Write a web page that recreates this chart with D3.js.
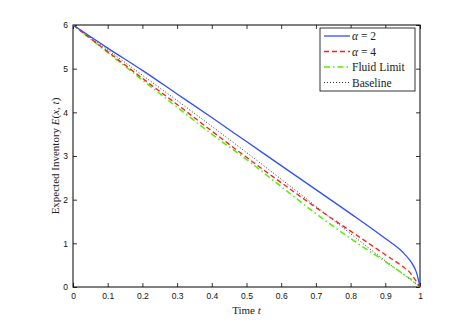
<!DOCTYPE html>
<html>
<head>
<meta charset="utf-8">
<script src="https://cdn.jsdelivr.net/npm/d3@7"></script>
<style>
  body { margin: 0; background: #fff; }
  svg { display: block; }
  .tick text { font-family: "Liberation Sans", Arial, sans-serif; font-size: 8.5px; fill: #111; }
  .lbl { font-family: "Liberation Serif", "Times New Roman", serif; font-size: 11px; fill: #222; }
  .leg { font-family: "Liberation Serif", "Times New Roman", serif; font-size: 11.5px; fill: #222; }
</style>
</head>
<body>
<div id="chart"></div>
<script>
// data
var times  = [0, 0.1, 0.2, 0.3, 0.4, 0.5, 0.6, 0.7, 0.8, 0.9, 0.95, 0.97, 0.98, 0.99, 0.995, 1];
var alpha2 = [6, 5.47, 4.96, 4.42, 3.88, 3.33, 2.78, 2.23, 1.68, 1.11, 0.80, 0.62, 0.50, 0.33, 0.18, 0];
var alpha4 = [6, 5.39, 4.78, 4.18, 3.57, 2.97, 2.39, 1.82, 1.28, 0.74, 0.47, 0.34, 0.24, 0.12, 0.06, 0];
var fluid  = [6, 5.37, 4.74, 4.12, 3.50, 2.92, 2.30, 1.68, 1.11, 0.58, 0.31, 0.20, 0.14, 0.07, 0.03, 0];
var baseline = [6, 5.43, 4.85, 4.27, 3.68, 3.08, 2.47, 1.85, 1.22, 0.60, 0.30, 0.18, 0.12, 0.06, 0.03, 0];
var xTicks = [0, 0.1, 0.2, 0.3, 0.4, 0.5, 0.6, 0.7, 0.8, 0.9, 1];
var yTicks = [0, 1, 2, 3, 4, 5, 6];

var series = [
  {name: "\u03b1 = 2", values: alpha2, color: "#3050f5", dash: null, width: 1.3},
  {name: "\u03b1 = 4", values: alpha4, color: "#ff1a1a", dash: "5,3", width: 1.3},
  {name: "Fluid Limit", values: fluid, color: "#55ee00", dash: "6,3,1.5,3", width: 1.5},
  {name: "Baseline", values: baseline, color: "#333", dash: "1,2", width: 1}
];

// Setup
var width = 464, height = 324;
var margin = {left: 73, top: 25, right: 44, bottom: 37};
var plot_w = width - margin.left - margin.right;
var plot_h = height - margin.top - margin.bottom;

var svg = d3.select("#chart").append("svg")
  .attr("width", width)
  .attr("height", height);

var g = svg.append("g")
  .attr("transform", "translate(" + margin.left + "," + margin.top + ")");

var x = d3.scaleLinear().domain([0, 1]).range([0, plot_w]);
var y = d3.scaleLinear().domain([0, 6]).range([plot_h, 0]);

// Axes (matlab style, ticks inside on all four sides)
function styleAxis(sel) {
  sel.select(".domain").remove();
  sel.selectAll(".tick line").attr("stroke", "#000").attr("stroke-width", 0.8);
}
g.append("g").attr("transform", "translate(0," + plot_h + ")")
  .call(d3.axisBottom(x).tickValues(xTicks).tickFormat(d3.format("")).tickSizeInner(-4).tickPadding(6))
  .call(styleAxis);
g.append("g")
  .call(d3.axisTop(x).tickValues(xTicks).tickFormat("").tickSizeInner(-4))
  .call(styleAxis);
g.append("g")
  .call(d3.axisLeft(y).tickValues(yTicks).tickFormat(d3.format("")).tickSizeInner(-4).tickPadding(5))
  .call(styleAxis);
g.append("g").attr("transform", "translate(" + plot_w + ",0)")
  .call(d3.axisRight(y).tickValues(yTicks).tickFormat("").tickSizeInner(-4))
  .call(styleAxis);

g.append("rect")
  .attr("width", plot_w).attr("height", plot_h)
  .attr("fill", "none").attr("stroke", "#000").attr("stroke-width", 1);

// Lines
var line = d3.line()
  .x(function(d) { return x(d[0]); })
  .y(function(d) { return y(d[1]); })
  .curve(d3.curveMonotoneX);

g.selectAll(".series")
  .data(series.slice().reverse())
  .enter()
  .append("path")
  .attr("class", "series")
  .attr("fill", "none")
  .attr("stroke", function(d) { return d.color; })
  .attr("stroke-width", function(d) { return d.width; })
  .attr("stroke-dasharray", function(d) { return d.dash; })
  .attr("d", function(d) { return line(times.map(function(t, i) { return [t, d.values[i]]; })); });

// Axis labels
var xl = svg.append("text").attr("class", "lbl")
  .attr("x", margin.left + plot_w / 2).attr("y", 314)
  .attr("text-anchor", "middle");
xl.append("tspan").text("Time ");
xl.append("tspan").attr("font-style", "italic").text("t");

var yl = svg.append("text").attr("class", "lbl")
  .attr("transform", "translate(59," + (margin.top + plot_h / 2) + ") rotate(-90)")
  .attr("text-anchor", "middle");
yl.append("tspan").text("Expected Inventory ");
yl.append("tspan").attr("font-style", "italic").text("E");
yl.append("tspan").text("(");
yl.append("tspan").attr("font-style", "italic").text("x");
yl.append("tspan").text(", ");
yl.append("tspan").attr("font-style", "italic").text("t");
yl.append("tspan").text(")");

// Legend
var legend = svg.append("g").attr("transform", "translate(320,28)");
legend.append("rect")
  .attr("width", 95).attr("height", 63)
  .attr("fill", "#fff").attr("stroke", "#000").attr("stroke-width", 0.8);

var item = legend.selectAll(".item")
  .data(series)
  .enter()
  .append("g")
  .attr("class", "item")
  .attr("transform", function(d, i) { return "translate(0," + (8 + i * 15.5) + ")"; });

item.append("line")
  .attr("x1", 4).attr("x2", 30)
  .attr("stroke", function(d) { return d.color; })
  .attr("stroke-width", function(d) { return d.width; })
  .attr("stroke-dasharray", function(d) { return d.dash; });

item.append("text")
  .attr("class", "leg")
  .attr("x", 32).attr("dy", "0.35em")
  .each(function(d) {
    var t = d3.select(this);
    if (d.name.charAt(0) === "\u03b1") {
      t.append("tspan").attr("font-style", "italic").text("\u03b1");
      t.append("tspan").text(d.name.slice(1));
    } else {
      t.text(d.name);
    }
  });
</script>
</body>
</html>
